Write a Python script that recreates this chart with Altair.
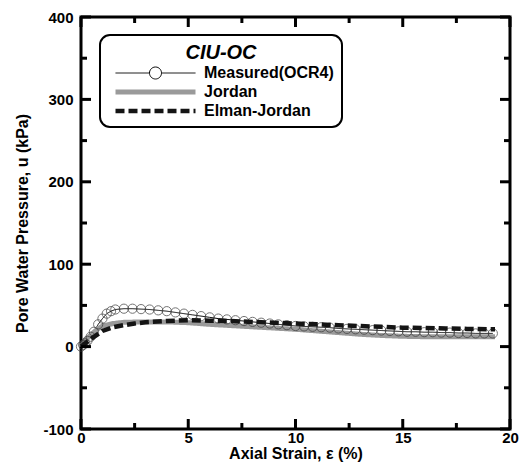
import altair as alt
import pandas as pd

# ---- data: pore water pressure vs axial strain (CIU test, OCR = 4) ----
measured_strain = [0, 0.1, 0.2, 0.3, 0.45, 0.6, 0.8, 1.0, 1.2, 1.4, 1.6,
                   2.0, 2.4, 2.8, 3.2, 3.6, 4.0, 4.4, 4.8, 5.2, 5.6, 6.0,
                   6.4, 6.8, 7.2, 7.6, 8.0, 8.4, 8.8, 9.2, 9.6, 10.0, 10.4,
                   10.8, 11.2, 11.6, 12.0, 12.4, 12.8, 13.2, 13.6, 14.0,
                   14.4, 14.8, 15.2, 15.6, 16.0, 16.4, 16.8, 17.2, 17.6,
                   18.0, 18.4, 18.8, 19.2]
measured_u = [0, 2, 4, 7, 12, 18, 27, 34, 40, 43, 45,
              46, 46, 45.5, 45, 44, 43, 41.5, 40, 38.5, 37, 35.5,
              34, 33, 32, 31, 30, 29, 28, 27, 26, 25, 24.5,
              24, 23.5, 23, 22, 21.5, 21, 20.5, 20, 19.5,
              19, 18.5, 18, 18, 17.5, 17.5, 17, 17, 16.5,
              16.5, 16, 16, 16]

jordan_strain = [0, 0.25, 0.5, 0.75, 1, 1.5, 2, 3, 4, 5, 6, 7, 8, 9, 10,
                 11, 12, 13, 14, 15, 16, 17, 18, 19, 19.3]
jordan_u = [0, 9, 15, 21, 25, 28, 29.5, 30, 30, 29, 27, 25.5, 24, 22.5, 21,
            19, 17, 15, 13.5, 12.5, 12, 12, 12, 12, 12]

elman_strain = [0, 0.5, 1, 1.5, 2, 2.5, 3, 4, 5, 6, 7, 8, 9, 10, 11, 12,
                13, 14, 15, 16, 17, 18, 19, 19.3]
elman_u = [0, 10, 19, 23.5, 26, 28, 29.5, 31, 32, 31.5, 31, 30, 29, 28, 27,
           26, 25, 24, 23, 22.5, 22, 21.5, 21, 21]

series_names = ["Measured(OCR4)", "Jordan", "Elman-Jordan"]
series_colors = ["#000000", "#9a9a9a", "#141414"]
series_dashes = [[1, 0], [1, 0], [9, 4]]
series_widths = [1, 5, 4.5]

x_major = [0, 5, 10, 15, 20]
x_minor = [2.5, 7.5, 12.5, 17.5]
y_major = [-100, 0, 100, 200, 300, 400]
y_minor = [-50, 50, 150, 250, 350]

# ---- layout ----
W, H = 429, 412
FONT = "Liberation Sans"
# legend symbol: a thin line through an open circle for the measured series
MEASURED_SYMBOL = ("M-1,0H-0.15M0.15,0H1M-0.15,0A0.15,0.15,0,1,1,0.15,0"
                   "A0.15,0.15,0,1,1,-0.15,0")
SYMBOL_EXPR = ("datum.value === 'Measured(OCR4)' ? '" + MEASURED_SYMBOL
               + "' : 'M-1,0H1'")

rows = []
for name, xs, ys in [(series_names[0], measured_strain, measured_u),
                     (series_names[1], jordan_strain, jordan_u),
                     (series_names[2], elman_strain, elman_u)]:
    for x, y in zip(xs, ys):
        rows.append({"series": name, "strain": x, "u": y})
df = pd.DataFrame(rows)

x_scale = alt.Scale(domain=[0, 20], nice=False, zero=False)
y_scale = alt.Scale(domain=[-100, 400], nice=False, zero=False)

x_axis = alt.Axis(values=x_major, title="Axial Strain, ε (%)",
                  ticks=False, domain=False, grid=False, labelFlush=False,
                  labelPadding=1, titlePadding=0)
y_axis = alt.Axis(values=y_major, title="Pore Water Pressure, u (kPa)",
                  ticks=False, domain=False, grid=False, labelFlush=False,
                  labelExpr="datum.value < 0 ? '-' + abs(datum.value) : datum.label",
                  labelPadding=8, titlePadding=12)
x_enc = alt.X("strain:Q", scale=x_scale, axis=x_axis)
y_enc = alt.Y("u:Q", scale=y_scale, axis=y_axis)

legend = alt.Legend(orient="none", legendX=19, legendY=18, title="CIU-OC",
                    symbolType=alt.ExprRef(expr=SYMBOL_EXPR))
color = alt.Color("series:N", legend=legend,
                  scale=alt.Scale(domain=series_names, range=series_colors))
dash = alt.StrokeDash("series:N", legend=legend,
                      scale=alt.Scale(domain=series_names, range=series_dashes))
width = alt.StrokeWidth("series:N", legend=legend,
                        scale=alt.Scale(type="ordinal", domain=series_names,
                                        range=series_widths))

base = alt.Chart(df)

lower_lines = base.transform_filter(
    alt.datum.series != "Elman-Jordan"
).mark_line(strokeCap="butt").encode(
    x=x_enc, y=y_enc, color=color, strokeDash=dash, strokeWidth=width,
    order=alt.Order("strain:Q"),
)

circles = base.transform_filter(
    alt.datum.series == "Measured(OCR4)"
).mark_point(shape="circle", filled=False, size=85, color="#3a3a3a",
             strokeWidth=1).encode(x=x_enc, y=y_enc)

top_line = base.transform_filter(
    alt.datum.series == "Elman-Jordan"
).mark_line(strokeCap="butt").encode(
    x=x_enc, y=y_enc, color=color, strokeDash=dash, strokeWidth=width,
    order=alt.Order("strain:Q"),
)

# inward ticks on all four sides of the frame
tick_layers = []
for vals, length in [(y_major, 10), (y_minor, 6)]:
    tdf = pd.DataFrame({"u": vals})
    tick_layers.append(alt.Chart(tdf).mark_rule(color="black", strokeWidth=3)
                       .encode(y=y_enc, x=alt.value(0), x2=alt.value(length)))
    tick_layers.append(alt.Chart(tdf).mark_rule(color="black", strokeWidth=3)
                       .encode(y=y_enc, x=alt.value(W), x2=alt.value(W - length)))
for vals, length in [(x_major, 10), (x_minor, 6)]:
    tdf = pd.DataFrame({"strain": vals})
    tick_layers.append(alt.Chart(tdf).mark_rule(color="black", strokeWidth=3)
                       .encode(x=x_enc, y=alt.value(H), y2=alt.value(H - length)))
    tick_layers.append(alt.Chart(tdf).mark_rule(color="black", strokeWidth=3)
                       .encode(x=x_enc, y=alt.value(0), y2=alt.value(length)))

chart = alt.layer(lower_lines, circles, top_line, *tick_layers).properties(
    width=W, height=H,
    autosize=alt.AutoSizeParams(type="none"),
    padding={"left": 81, "top": 17, "right": 525 - 81 - W, "bottom": 474 - 17 - H},
    background="white",
).configure_view(
    stroke="black", strokeWidth=3,
).configure_axis(
    labelFont=FONT, labelFontSize=15, labelFontWeight="bold", labelColor="black",
    titleFont=FONT, titleFontSize=16, titleFontWeight="bold", titleColor="black",
).configure_legend(
    strokeColor="black", strokeWidth=2, cornerRadius=10, fillColor="white",
    padding=8, symbolSize=6400, clipHeight=14, rowPadding=3,
    symbolOffset=5, labelOffset=6,
    labelFont=FONT, labelFontSize=16, labelFontWeight="bold", labelColor="black",
    titleFont=FONT, titleFontSize=20, titleFontStyle="italic",
    titleFontWeight="bold", titleColor="black", titleAnchor="middle",
    titlePadding=3,
)

chart.save("out.html", embed_options={"renderer": "svg", "actions": False})
